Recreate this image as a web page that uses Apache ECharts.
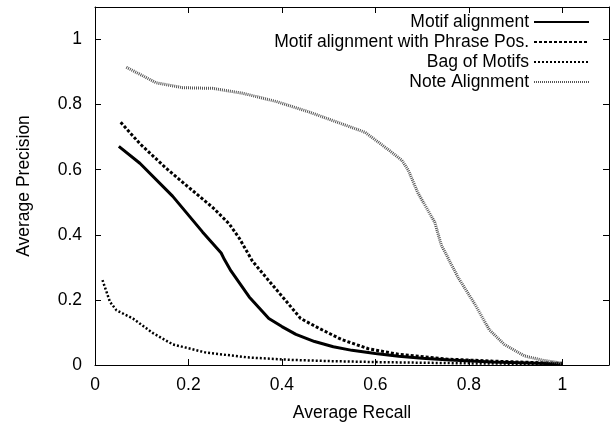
<!DOCTYPE html>
<html>
<head>
<meta charset="utf-8">
<script src="https://cdn.jsdelivr.net/npm/echarts@6/dist/echarts.min.js"></script>
<style>
  html, body { margin: 0; padding: 0; background: #fff; }
  #main { width: 612px; height: 427px; }
</style>
</head>
<body>
<div id="main"></div>
<script>
// data
const seriesNames = ['Motif alignment', 'Motif alignment with Phrase Pos.', 'Bag of Motifs', 'Note Alignment'];

const motifRecall = [0.051, 0.096, 0.166, 0.23, 0.27, 0.277, 0.291, 0.33, 0.372, 0.40, 0.43, 0.47, 0.51, 0.55, 0.60, 0.65, 0.70, 0.76, 0.85, 0.93, 1.0];
const motifPrec   = [0.672, 0.62, 0.519, 0.409, 0.344, 0.324, 0.289, 0.209, 0.143, 0.118, 0.094, 0.072, 0.056, 0.045, 0.035, 0.027, 0.021, 0.015, 0.009, 0.006, 0.003];

const phraseRecall = [0.055, 0.096, 0.152, 0.202, 0.252, 0.287, 0.309, 0.337, 0.372, 0.408, 0.44, 0.479, 0.528, 0.585, 0.649, 0.755, 0.85, 0.93, 1.0];
const phrasePrec   = [0.746, 0.68, 0.605, 0.544, 0.484, 0.434, 0.389, 0.319, 0.259, 0.198, 0.143, 0.113, 0.078, 0.05, 0.033, 0.018, 0.012, 0.008, 0.005];

const bagRecall = [0.016, 0.032, 0.046, 0.081, 0.124, 0.167, 0.238, 0.33, 0.415, 0.5, 0.6, 0.7, 0.8, 0.9, 1.0];
const bagPrec   = [0.261, 0.194, 0.168, 0.143, 0.098, 0.063, 0.038, 0.023, 0.016, 0.012, 0.009, 0.007, 0.005, 0.004, 0.003];

const noteRecall = [0.067, 0.131, 0.188, 0.252, 0.316, 0.387, 0.457, 0.507, 0.578, 0.62, 0.656, 0.67, 0.691, 0.727, 0.741, 0.777, 0.812, 0.844, 0.876, 0.919, 0.96, 0.989, 1.0];
const notePrec   = [0.915, 0.867, 0.852, 0.85, 0.835, 0.81, 0.778, 0.752, 0.715, 0.67, 0.63, 0.60, 0.529, 0.439, 0.369, 0.269, 0.189, 0.108, 0.063, 0.028, 0.014, 0.008, 0.005];

const zip = (xs, ys) => xs.map((x, i) => [x, ys[i]]);

const FONT = 'Liberation Sans';
const FS = 17.5;
const fmt = v => {
  const r = Math.round(v * 10) / 10;
  if (Math.abs(r * 5 - Math.round(r * 5)) > 1e-6 || r > 1.0001) return '';
  return String(r);
};

const baseAxis = {
  type: 'value',
  min: 0,
  max: 1.1,
  interval: 0.2,
  splitLine: { show: false },
  axisLine: { show: true, onZero: false, lineStyle: { color: '#000', width: 1 } },
  axisTick: { show: true, inside: true, length: 6, lineStyle: { color: '#000' } }
};

const option = {
  animation: false,
  backgroundColor: '#fff',
  textStyle: { fontFamily: FONT, color: '#000' },
  grid: { left: 95, right: 3, top: 7, bottom: 54 },
  legend: {
    orient: 'vertical',
    align: 'right',
    right: 17,
    top: 8,
    itemWidth: 55,
    itemHeight: 10,
    itemGap: 2,
    itemStyle: { opacity: 0 },
    textStyle: { fontFamily: FONT, fontSize: FS, color: '#000', lineHeight: 17 },
    data: seriesNames
  },
  xAxis: [
    Object.assign({}, baseAxis, {
      position: 'bottom',
      name: 'Average Recall',
      nameLocation: 'middle',
      nameGap: 39,
      nameTextStyle: { fontFamily: FONT, fontSize: FS, color: '#000' },
      axisLabel: { fontFamily: FONT, fontSize: FS, color: '#000', margin: 11, formatter: fmt }
    }),
    Object.assign({}, baseAxis, { position: 'top', axisLabel: { show: false } })
  ],
  yAxis: [
    Object.assign({}, baseAxis, {
      position: 'left',
      name: 'Average Precision',
      nameLocation: 'middle',
      nameGap: 62,
      nameTextStyle: { fontFamily: FONT, fontSize: FS, color: '#000' },
      axisLabel: { fontFamily: FONT, fontSize: FS, color: '#000', margin: 13, formatter: fmt }
    }),
    Object.assign({}, baseAxis, { position: 'right', axisLabel: { show: false } })
  ],
  series: [
    {
      name: seriesNames[0], type: 'line', showSymbol: false, symbol: 'none',
      data: zip(motifRecall, motifPrec),
      lineStyle: { color: '#000', width: 3, type: 'solid' },
      itemStyle: { color: '#000' }
    },
    {
      name: seriesNames[1], type: 'line', showSymbol: false, symbol: 'none',
      data: zip(phraseRecall, phrasePrec),
      lineStyle: { color: '#000', width: 3, type: [3, 2] },
      itemStyle: { color: '#000' }
    },
    {
      name: seriesNames[2], type: 'line', showSymbol: false, symbol: 'none',
      data: zip(bagRecall, bagPrec),
      lineStyle: { color: '#000', width: 2.5, type: [2, 2] },
      itemStyle: { color: '#000' }
    },
    {
      name: seriesNames[3], type: 'line', showSymbol: false, symbol: 'none',
      data: zip(noteRecall, notePrec),
      lineStyle: { color: '#555', width: 3, type: [1, 1] },
      itemStyle: { color: '#555' }
    }
  ]
};

const chart = echarts.init(document.getElementById('main'));
chart.setOption(option);
</script>
</body>
</html>
